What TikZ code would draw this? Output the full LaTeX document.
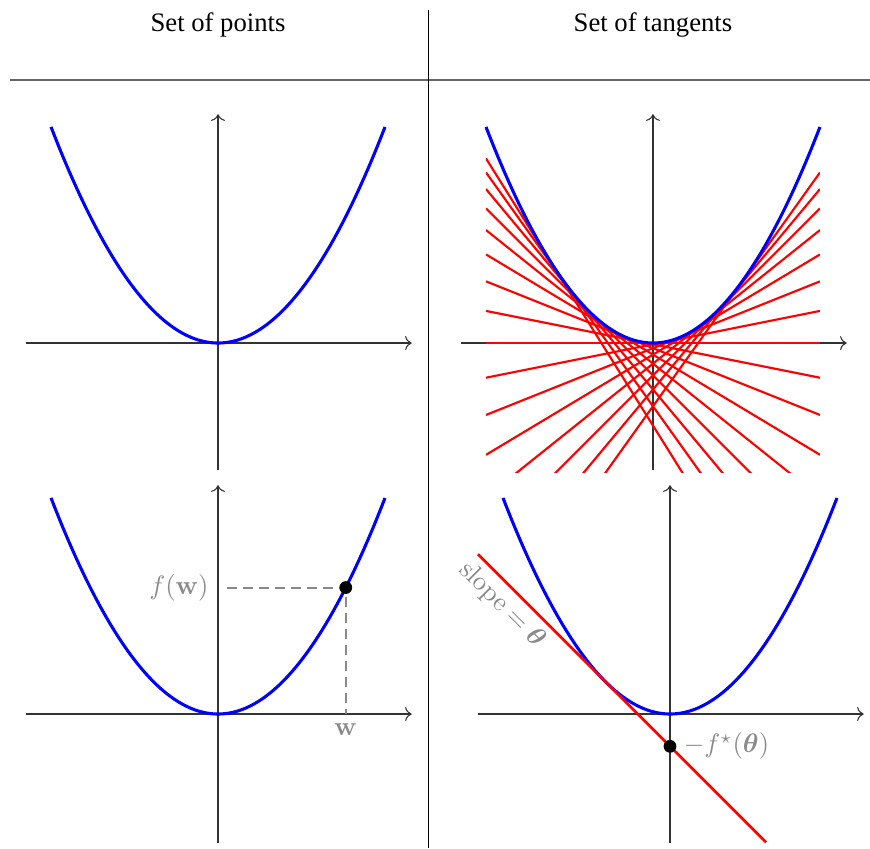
\documentclass[tikz,border=0pt]{standalone}
\usepackage{amsmath,amssymb}
\usepackage[no-math]{fontspec}
\setmainfont{Liberation Serif}
\usetikzlibrary{arrows.meta}
\definecolor{AxisGray}{HTML}{333333}
\definecolor{RuleGray}{HTML}{666666}
\definecolor{LabelGray}{HTML}{8A8A8A}
\def\curv{0.647}
\tikzset{
  axis/.style={->,AxisGray,line width=0.4pt},
  curve/.style={blue,line width=1.15pt},
  tangent/.style={red,line width=0.8pt},
  guide/.style={LabelGray,line width=0.75pt,dash pattern=on 3.6pt off 2.4pt},
  lbl/.style={text=LabelGray},
  dot/.style={circle,fill=black,inner sep=0pt,minimum size=4.8pt},
}
% axes of one panel, #1 = lower end of the vertical axis
\newcommand{\panelaxes}[1]{%
  \draw[axis] (-2.3,0) -- (2.32,0);
  \draw[axis] (0,#1) -- (0,2.74);}
\newcommand{\parabola}{%
  \draw[curve] plot[domain=-2:2,samples=80] (\x,{\curv*\x*\x});}

\begin{document}
\begin{tikzpicture}[x=1.1cm,y=1.1cm]
        \useasboundingbox (0,0) rectangle (10.419,10.156);
        % header
        \node (ptsTitle) at (2.611,9.856) {Set of points};
        \node (tgtTitle) at (7.820,9.856) {Set of tangents};
        \draw[RuleGray,line width=0.6pt] (0.12,9.198) -- (10.419,9.198);
        \draw[black,line width=0.35pt] (5.126,10.036) -- (5.126,0);
        % points, top
        \begin{scope}[shift={(2.611,6.048)}]
          \panelaxes{-1.52}
          \parabola
        \end{scope}
        % tangents, top
        \begin{scope}[shift={(7.820,6.048)}]
          \panelaxes{-1.52}
          \begin{scope}
            \clip (-2,-1.545) rectangle (2,3);
            \foreach \k in {-8,...,7} {
              \pgfmathsetmacro\s{\k/5}
              \pgfmathsetmacro\b{\s*\s/(4*\curv)}
              \draw[tangent] (-2,{-2*\s-\b}) -- (2,{2*\s-\b});
            }
          \end{scope}
          \parabola
        \end{scope}
        % points, bottom
        \begin{scope}[shift={(2.611,1.605)}]
          \panelaxes{-1.545}
          \parabola
          \coordinate (wOnCurve) at (1.53,{\curv*1.53*1.53});
          \coordinate (fwAx) at (0,{\curv*1.53*1.53});
          \coordinate (wAx) at (1.53,0);
          \draw[guide] ([xshift=3.5pt]fwAx) -- (wOnCurve) -- (wAx);
          \node[dot] (wpt) at (wOnCurve) {};
          \node[lbl,left] (fw) at (fwAx) {$f(\mathbf{w})$};
          \node[lbl,below] (w) at (wAx) {$\mathbf{w}$};
        \end{scope}
        % tangents, bottom
        \begin{scope}[shift={(8.024,1.605)}]
          \panelaxes{-1.545}
          \parabola
          \coordinate (tA) at (-2.3,1.9134);
          \coordinate (tB) at (1.15,-1.5366);
          \draw[tangent,line width=1pt] (tA) -- node[pos=0.13,sloped,below=-1pt,lbl] (slope) {$\mathrm{slope}=\boldsymbol{\theta}$} (tB);
          \node[dot] (ypt) at (0,-0.3866) {};
          \node[lbl,right,inner sep=2.3pt] (fstar) at (ypt.east) {$-f^{\star}(\boldsymbol{\theta})$};
        \end{scope}
      \end{tikzpicture}
\end{document}
